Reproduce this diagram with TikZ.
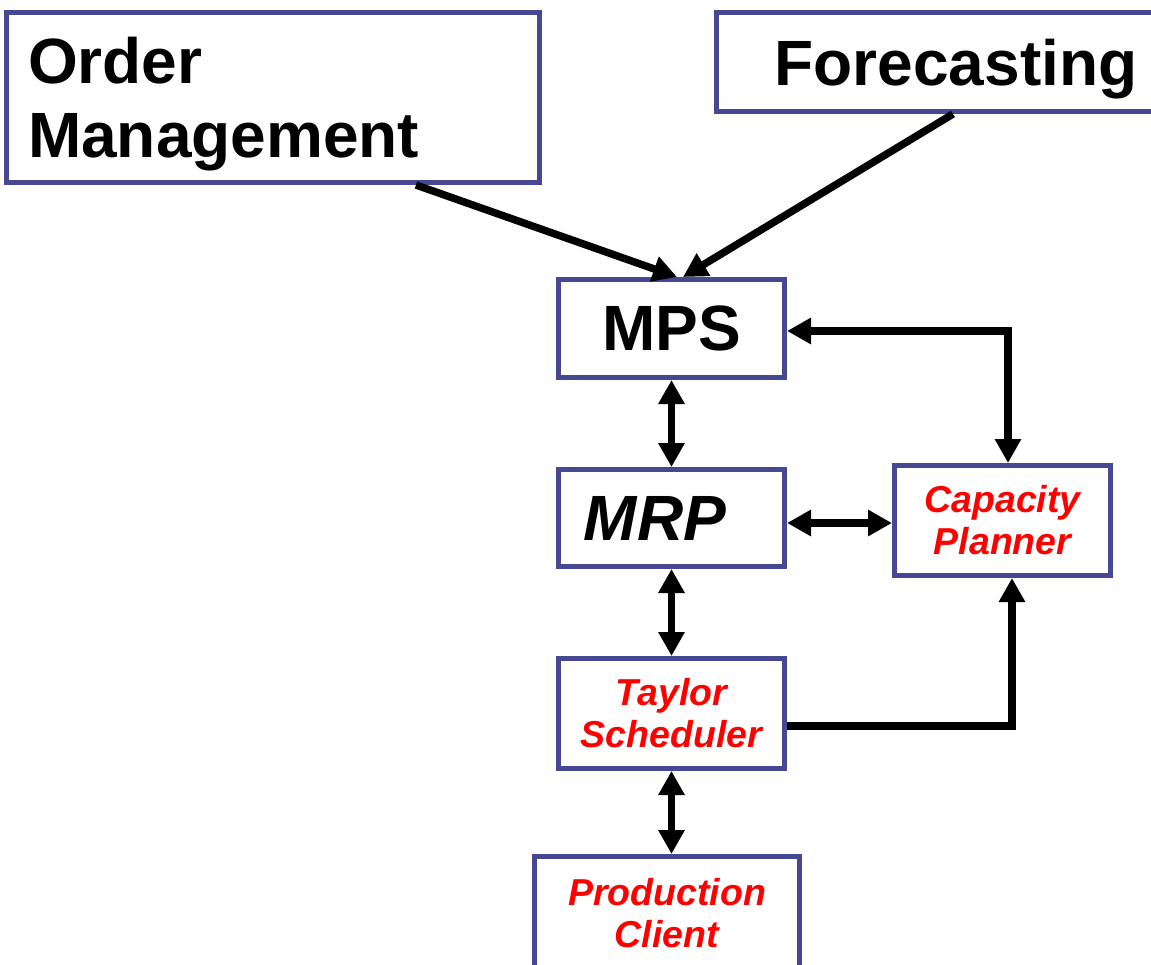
\documentclass[tikz,border=0pt]{standalone}
\usepackage{fontspec}
\setmainfont{Liberation Sans}
\usetikzlibrary{arrows.meta}
\definecolor{boxblue}{RGB}{70,73,145}
\definecolor{txtred}{RGB}{255,0,0}
\begin{document}
\begin{tikzpicture}[x=1pt,y=-1pt,
  box/.style={draw=boxblue, line width=5pt, fill=white, inner sep=0pt},
  big/.style={font=\fontsize{64}{74}\selectfont\bfseries},
  bigit/.style={font=\fontsize{64}{74}\selectfont\bfseries\itshape},
  small/.style={font=\fontsize{37.5}{42}\selectfont\bfseries\itshape, text=txtred, align=center},
  arr/.style={line width=7.5pt, -{Triangle[length=24pt,width=25pt]}},
  darr/.style={line width=7.5pt, {Triangle[length=24pt,width=25pt]}-{Triangle[length=24pt,width=25pt]}},
  line join=miter]
\useasboundingbox (0,0) rectangle (1151,964);

\node[box, big, minimum width=533pt, minimum height=170pt, text width=490pt, align=left, inner xsep=21.5pt] (om) at (273,97.5) {Order\\Mana\smash{g}ement};
\node[box, big, minimum width=479pt, minimum height=99pt, text depth=0pt] (fc) at (956,62) {Forecasting};
\node[box, big, minimum width=226pt, minimum height=98pt] (mps) at (671.5,328.5) {MPS};
\node[box, bigit, minimum width=226pt, minimum height=97pt] (mrp) at (671.5,518) {MRP\hspace*{33pt}};
\node[box, small, minimum width=216pt, minimum height=110pt] (cap) at (1002.5,520.5) {Capacity\\Planner};
\node[box, small, minimum width=226pt, minimum height=110pt] (tay) at (671.5,713.5) {Taylor\\Scheduler};
\node[box, small, minimum width=265pt, minimum height=113pt] (prod) at (667,913) {Production\\Client};

\draw[arr] ([xshift=143pt]om.south) -- ([xshift=5.5pt]mps.north);
\draw[arr] ([xshift=-3pt]fc.south) -- ([xshift=11.5pt]mps.north);
\draw[darr] (mps.south) -- (mrp.north);
\draw[darr] (mrp.south) -- (tay.north);
\draw[darr] (tay.south) -- (tay.south |- prod.north);
\draw[darr] ([yshift=-2.5pt]mps.east) -| ([xshift=5.5pt]cap.north);
\draw[darr] ([yshift=-5pt]mrp.east) -- ([yshift=-2.5pt]cap.west);
\draw[arr] ([yshift=-12.5pt]tay.east) -| ([xshift=9.5pt]cap.south);
\end{tikzpicture}
\end{document}
